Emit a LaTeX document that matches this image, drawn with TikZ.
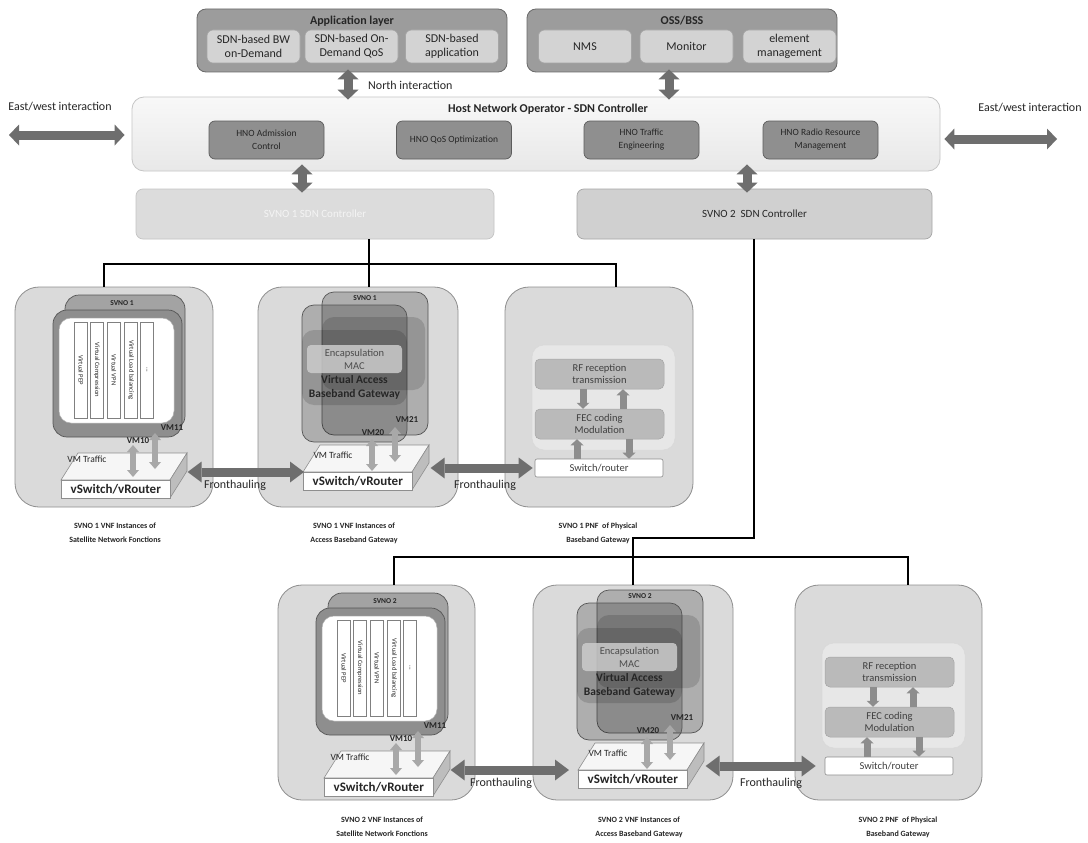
\documentclass[tikz,border=0pt]{standalone}
\usepackage{fontspec}
\setmainfont{Carlito}
\usetikzlibrary{arrows.meta,calc}
\definecolor{boxfill}{HTML}{DADADA}
\definecolor{boxline}{HTML}{8E8E8E}
\definecolor{appfill}{HTML}{9C9C9C}
\definecolor{appline}{HTML}{6A6A6A}
\definecolor{appsub}{HTML}{D3D3D3}
\definecolor{appsubline}{HTML}{A5A5A5}
\definecolor{hnotop}{HTML}{F8F8F8}
\definecolor{hnobot}{HTML}{E8E8E8}
\definecolor{hnoline}{HTML}{C6C6C6}
\definecolor{hnosub}{HTML}{8F8F8F}
\definecolor{hnosubline}{HTML}{5C5C5C}
\definecolor{sonefill}{HTML}{DCDCDC}
\definecolor{soneline}{HTML}{C4C4C4}
\definecolor{sonetext}{HTML}{F4F4F4}
\definecolor{stwofill}{HTML}{D0D0D0}
\definecolor{stwoline}{HTML}{A6A6A6}
\definecolor{darkarr}{HTML}{6E6E6E}
\definecolor{vmarr}{HTML}{A8A8A8}
\definecolor{satback}{HTML}{A3A3A3}
\definecolor{satfront}{HTML}{8E8E8E}
\definecolor{darkline}{HTML}{555555}
\definecolor{rffill}{HTML}{BABABA}
\definecolor{rfline}{HTML}{A4A4A4}
\definecolor{panelfill}{HTML}{E7E7E7}
\definecolor{txt}{HTML}{262626}
\definecolor{swside}{HTML}{BDBDBD}
\definecolor{swtop}{HTML}{F6F6F6}
\definecolor{smarr}{HTML}{8D8D8D}
\newcommand\myfs[2]{\fontsize{#1}{#2}\selectfont}
\tikzset{
 outerbox/.style={draw=boxline, fill=boxfill, line width=0.8pt, rounded corners=24pt, inner sep=0pt},
 appbox/.style={draw=appline, fill=appfill, line width=0.8pt, rounded corners=9pt, inner sep=0pt},
 appsubbox/.style={draw=appsubline, fill=appsub, line width=0.6pt, rounded corners=6pt, align=center, font=\myfs{12}{14}, text=txt, minimum width=93pt, minimum height=33pt, inner sep=1pt},
 titlebold/.style={font=\bfseries\myfs{12}{14}, text=txt, inner sep=0pt},
 hnobox/.style={draw=hnoline, top color=hnotop, bottom color=hnobot, line width=0.8pt, rounded corners=12pt, inner sep=0pt},
 hnosubbox/.style={draw=hnosubline, fill=hnosub, line width=0.7pt, rounded corners=6pt, align=center, font=\myfs{9.5}{13}, text=txt, minimum width=115pt, minimum height=38pt, inner sep=1pt},
 sone/.style={draw=soneline, fill=sonefill, line width=0.7pt, rounded corners=7pt, font=\myfs{11}{13}, text=sonetext, anchor=center, inner sep=0pt},
 stwo/.style={draw=stwoline, fill=stwofill, line width=0.7pt, rounded corners=7pt, font=\myfs{11}{13}, text=txt, inner sep=0pt},
 plain/.style={font=\myfs{12}{14}, text=txt, inner sep=0pt},
 bigarr/.style={draw=darkarr, line width=9pt, {Triangle[width=21pt,length=10pt,line width=0pt]}-{Triangle[width=21pt,length=10pt,line width=0pt]}},
 fharrow/.style={draw=darkarr, line width=9pt, {Triangle[width=21pt,length=14pt,line width=0pt]}-{Triangle[width=21pt,length=14pt,line width=0pt]}},
 vmarrow/.style={draw=vmarr, line width=6pt, {Triangle[width=12pt,length=7pt,line width=0pt]}-{Triangle[width=12pt,length=7pt,line width=0pt]}},
 smarrow/.style={draw=smarr, line width=7pt, -{Triangle[width=13pt,length=6pt,line width=0pt]}},
 bus/.style={draw=black, line width=1.2pt},
 satbackbox/.style={draw=darkline, fill=satback, line width=0.7pt, rounded corners=14pt},
 satfrontbox/.style={draw=darkline, fill=satfront, line width=0.7pt, rounded corners=14pt},
 satwhite/.style={draw=black!30, fill=white, line width=0.5pt, rounded corners=12pt},
 strip/.style={draw=black!50, fill=white, line width=0.5pt, inner sep=0pt, minimum width=96pt, minimum height=13pt, rotate=-90, font=\myfs{6.6}{7}, text=txt},
 svnolbl/.style={font=\bfseries\myfs{7.5}{9}, text=txt, inner sep=0pt},
 vmlbl/.style={font=\bfseries\myfs{9}{10}, text=txt, inner sep=0pt},
 vmtraffic/.style={font=\myfs{9.5}{11}, text=txt, inner sep=0pt},
 swface/.style={draw=boxline, fill=white, line width=0.6pt, inner sep=0pt, font=\bfseries\myfs{13}{14}, text=txt},
 accbox/.style={draw=darkline, line width=0.7pt, fill=black, fill opacity=0.2, rounded corners=12pt},
 accmid/.style={fill=black, fill opacity=0.14, rounded corners=12pt},
 encapbox/.style={fill=black!20, fill opacity=0.85, rounded corners=4pt},
 encaptxt/.style={font=\myfs{10.5}{13}, text=black!70, align=center, inner sep=0pt},
 vabg/.style={font=\bfseries\myfs{11.5}{14.5}, text=txt, align=center, inner sep=0pt},
 pnfpanel/.style={draw=black!15, fill=panelfill, line width=0.5pt, rounded corners=12pt},
 rfbox/.style={draw=rfline, fill=rffill, line width=0.5pt, rounded corners=5pt, minimum width=129pt, minimum height=30pt, align=center, font=\myfs{10.5}{12.5}, text=black!75, inner sep=0pt},
 swrbox/.style={draw=black!45, fill=white, line width=0.6pt, rounded corners=2pt, minimum width=128pt, minimum height=18pt, font=\myfs{10.5}{12}, text=black!75, inner sep=0pt},
 caption/.style={font=\bfseries\myfs{8}{14}, text=txt, align=center, inner sep=0pt},
}
\newcommand\vsw[3]{%
 \path[fill=swtop, draw=boxline, line width=0.6pt] (#2,#3) -- ++(17,-27) -- ++(109,0) -- ++(-17,27) -- cycle;
 \path[fill=swside, draw=boxline, line width=0.6pt] ($(#2,#3)+(109,0)$) -- ++(17,-27) -- ++(0,18) -- ++(-17,27) -- cycle;
 \node[swface, anchor=north west, minimum width=109pt, minimum height=18pt] (#1) at (#2,#3) {vSwitch/vRouter};
}
\newcommand\satvnf[3]{%
\begin{scope}[shift={#2}]
 \draw[satbackbox] (50,8) rectangle (170,143);
 \node[svnolbl] (#1ttl) at (107,16) {#3};
 \draw[satfrontbox] (38,23) rectangle (167,150);
 \draw[satwhite] (44,31) rectangle (159,136);
 \node[strip] (#1sa) at (66,83) {Virtual PEP};
 \node[strip] (#1sb) at (82,83) {Virtual Compression};
 \node[strip] (#1sc) at (99,83) {Virtual VPN};
 \node[strip] (#1sd) at (116,83) {Virtual Load balancing};
 \node[strip] (#1se) at (132,83) {...};
 \node[vmlbl] (#1vma) at (157,141) {VM11};
 \node[vmlbl] (#1vmb) at (123,154) {VM10};
 \vsw{#1sw}{46}{193}
 \node[vmtraffic] (#1vmt) at (72,172) {VM Traffic};
 \draw[vmarrow] (118,158) -- (118,190);
 \draw[vmarrow] (140,146) -- (140,182);
\end{scope}}
\newcommand\accvnf[3]{%
\begin{scope}[shift={#2}]
 \draw[accbox] (64,5) rectangle (170,148);
 \node[svnolbl] (#1ttl) at (107,11) {#3};
 \draw[accbox] (44,18) rectangle (149,155);
 \fill[accmid] (64,30) rectangle (167,103);
 \fill[accmid] (44,43) rectangle (149,118);
 \fill[encapbox] (49,58) rectangle (144,86);
 \node[encaptxt] (#1enc) at (96.5,72.5) {Encapsulation\\MAC};
 \node[vabg] (#1vabg) at (96.5,100.5) {Virtual Access\\Baseband Gateway};
 \node[vmlbl] (#1vma) at (149,133) {VM21};
 \node[vmlbl] (#1vmb) at (115,146) {VM20};
 \vsw{#1sw}{45}{185}
 \node[vmtraffic] (#1vmt) at (75,168) {VM Traffic};
 \draw[vmarrow] (114,152) -- (114,184);
 \draw[vmarrow] (137,140) -- (137,175);
\end{scope}}
\newcommand\pnfbox[2]{%
\begin{scope}[shift={#2}]
 \draw[pnfpanel] (27,58) rectangle (170,163);
 \node[rfbox] (#1rf) at (94.5,87) {RF reception\\transmission};
 \node[rfbox] (#1fec) at (94.5,137) {FEC coding\\Modulation};
 \node[swrbox] (#1sr) at (94,181) {Switch/router};
 \coordinate (#1xa) at (78,0);
 \coordinate (#1xb) at (118,0);
 \coordinate (#1xc) at (72,0);
 \coordinate (#1xd) at (124,0);
 \draw[smarrow] (#1rf.south -| #1xa) -- (#1fec.north -| #1xa);
 \draw[smarrow] (#1fec.north -| #1xb) -- (#1rf.south -| #1xb);
 \draw[smarrow] (#1sr.north -| #1xc) -- (#1fec.south -| #1xc);
 \draw[smarrow] (#1fec.south -| #1xd) -- (#1sr.north -| #1xd);
\end{scope}}
\begin{document}
\begin{tikzpicture}[x=1pt,y=-1pt]
\useasboundingbox (0,0) rectangle (1088,843);
\fill[white] (0,0) rectangle (1088,843);
% application layer
\node[appbox, minimum width=310pt, minimum height=63pt] (app) at (352,40.5) {};
\node[titlebold] (apptitle) at (352,21) {Application layer};
\node[appsubbox] (bw) at (253.5,46.5) {SDN-based BW\\on-Demand};
\node[appsubbox] (qos) at (351.5,46.5) {SDN-based On-\\Demand QoS};
\node[appsubbox] (sapp) at (452,46.5) {SDN-based\\application};
% OSS/BSS
\node[appbox, minimum width=310pt, minimum height=63pt] (oss) at (682,40.5) {};
\node[titlebold] (osstitle) at (682,21) {OSS/BSS};
\node[appsubbox] (nms) at (585,46.5) {NMS};
\node[appsubbox] (mon) at (686.5,46.5) {Monitor};
\node[appsubbox] (elm) at (789.5,46.5) {element\\management};
% HNO controller
\node[hnobox, minimum width=808pt, minimum height=74pt] (hno) at (536,134) {};
\node[titlebold] (hnot) at (548,109) {Host Network Operator - SDN Controller};
\node[hnosubbox] (adm) at (266.5,140) {HNO Admission\\Control};
\node[hnosubbox] (hqos) at (454,140) {HNO QoS Optimization};
\node[hnosubbox] (te) at (641.5,140) {HNO Traffic\\Engineering};
\node[hnosubbox] (rrm) at (820.5,140) {HNO Radio Resource\\Management};
% SVNO controllers
\node[sone, minimum width=358pt, minimum height=50pt] (svno1) at (315,214) {SVNO 1 SDN Controller};
\node[stwo, minimum width=355pt, minimum height=50pt] (svno2) at (754.5,214) {SVNO 2\ \ SDN Controller};
% big arrows
\coordinate (na) at ($(app.south)+(-4,-3)$);
\draw[bigarr] (na) -- ($(na |- hno.north)+(0,3)$);
\node[plain, anchor=west] (northlbl) at (368,85) {North interaction};
\coordinate (oa) at ($(oss.south)+(-13,-3)$);
\draw[bigarr] (oa) -- ($(oa |- hno.north)+(0,3)$);
\coordinate (ewl) at (9,135);
\draw[bigarr] (ewl) -- ($(ewl -| hno.west)+(-7,0)$);
\node[plain] (ewltxt) at (60,107) {East/west interaction};
\coordinate (ewr) at (1057,139);
\draw[bigarr] ($(ewr -| hno.east)+(4,0)$) -- (ewr);
\node[plain] (ewrtxt) at (1030,108) {East/west interaction};
\coordinate (ha) at ($(hno.south)+(-234,-7)$);
\draw[bigarr] (ha) -- ($(ha |- svno1.north)+(0,4)$);
\coordinate (hb) at ($(hno.south)+(211,-7)$);
\draw[bigarr] (hb) -- ($(hb |- svno2.north)+(0,4)$);
% outer boxes
\node[outerbox, minimum width=198pt, minimum height=220pt] (A) at (114,397) {};
\node[outerbox, minimum width=200pt, minimum height=220pt] (B) at (358,397) {};
\node[outerbox, minimum width=188pt, minimum height=220pt] (C) at (599,397) {};
\node[outerbox, minimum width=197pt, minimum height=215pt] (D) at (376.5,692.5) {};
\node[outerbox, minimum width=200pt, minimum height=215pt] (E) at (633,692.5) {};
\node[outerbox, minimum width=187pt, minimum height=215pt] (F) at (888.5,692.5) {};
% buses
\coordinate (bm) at (369,264);
\coordinate (bl) at (104,264);
\coordinate (br) at (616,264);
\draw[bus] (bm |- svno1.south) -- (bm |- B.north);
\draw[bus] (bl |- A.north) -- (bl) -- (br) -- (br |- C.north);
\coordinate (ka) at (754,538);
\coordinate (kb) at (633,538);
\coordinate (cl) at (394,557);
\coordinate (cr) at (908,557);
\draw[bus] (ka |- svno2.south) -- (ka) -- (kb) -- (kb |- E.north);
\draw[bus] (cl |- D.north) -- (cl) -- (cr) -- (cr |- F.north);
% contents
\satvnf{A}{(15,287)}{SVNO 1}
\accvnf{B}{(258,287)}{SVNO 1}
\pnfbox{C}{(505,287)}
\satvnf{D}{(278,585)}{SVNO 2}
\accvnf{E}{(533,585)}{SVNO 2}
\pnfbox{F}{(795,585)}
% fronthauling
\draw[fharrow] ($(Bsw.north west -| Asw.east)+(17,0)$) -- ($(Bsw.north west)+(1,0)$);
\draw[fharrow] ($(Csr.west -| Bsw.east)+(18,0)$) -- ($(Csr.west)+(-2,0)$);
\draw[fharrow] ($(Esw.north west -| Dsw.east)+(17,0)$) -- ($(Esw.north west)+(-9,0)$);
\draw[fharrow] ($(Fsr.west -| Esw.east)+(18,0)$) -- ($(Fsr.west)+(-9,0)$);
\node[plain] (fha) at (235,485) {Fronthauling};
\node[plain] (fhb) at (485,485) {Fronthauling};
\node[plain] (fhc) at (501,783) {Fronthauling};
\node[plain] (fhd) at (771,783) {Fronthauling};
% captions
\node[caption] (capA) at (115,533) {SVNO 1 VNF Instances of\\Satellite Network Fonctions};
\node[caption] (capB) at (354,533) {SVNO 1 VNF Instances of\\Access Baseband Gateway};
\node[caption] (capC) at (598,533) {SVNO 1 PNF\ \ of Physical\\Baseband Gateway};
\node[caption] (capD) at (382,827) {SVNO 2 VNF Instances of\\Satellite Network Fonctions};
\node[caption] (capE) at (639,827) {SVNO 2 VNF Instances of\\Access Baseband Gateway};
\node[caption] (capF) at (898,827) {SVNO 2 PNF\ \ of Physical\\Baseband Gateway};
\end{tikzpicture}
\end{document}
